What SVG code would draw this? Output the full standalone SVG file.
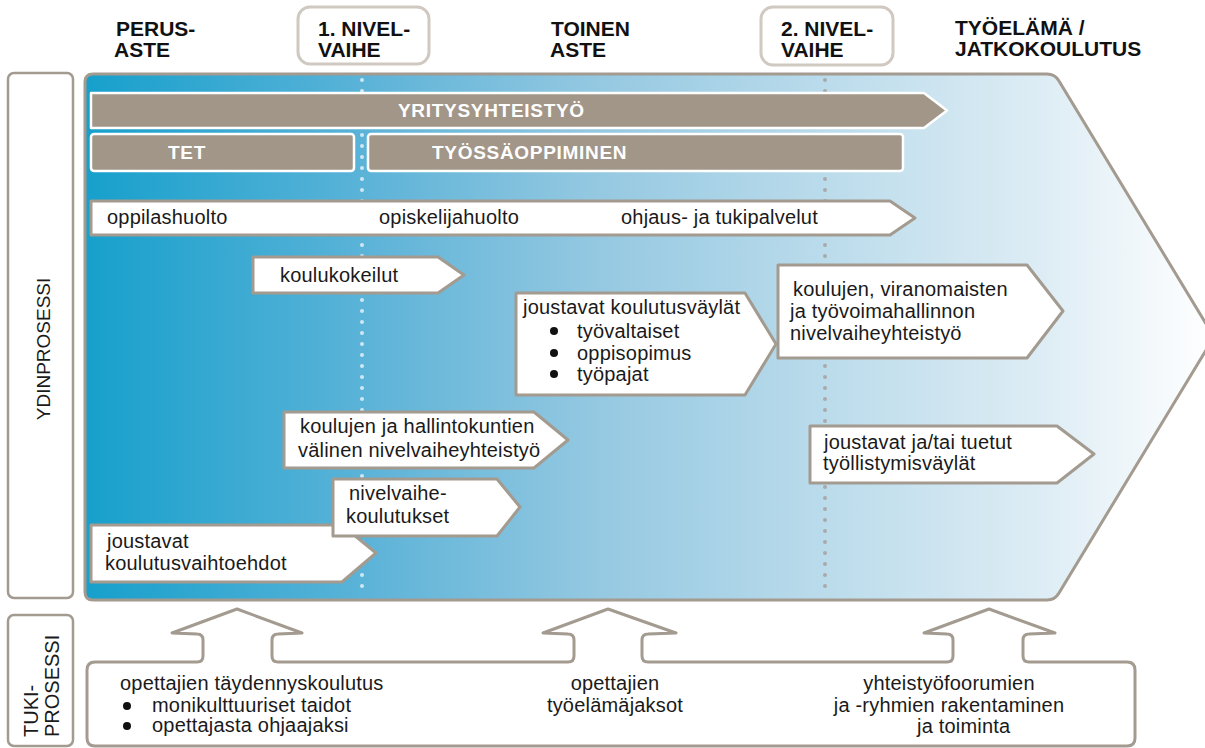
<svg xmlns="http://www.w3.org/2000/svg" width="1205" height="748" viewBox="0 0 1205 748">
<defs>
<linearGradient id="bg" gradientUnits="userSpaceOnUse" x1="85" y1="0" x2="1215" y2="0">
<stop offset="0" stop-color="#16a0cc"/>
<stop offset="0.25" stop-color="#5cb3d8"/>
<stop offset="0.45" stop-color="#94c8e1"/>
<stop offset="0.65" stop-color="#badbeb"/>
<stop offset="0.85" stop-color="#deedf5"/>
<stop offset="1" stop-color="#ffffff"/>
</linearGradient>
<style>
.t{font-family:"Liberation Sans",Arial,sans-serif;font-size:20px;letter-spacing:0.2px;fill:#1a1a1a}
.h{font-family:"Liberation Sans",Arial,sans-serif;font-size:21px;font-weight:bold;fill:#111}
.b{font-family:"Liberation Sans",Arial,sans-serif;font-size:19px;font-weight:bold;letter-spacing:0.7px;fill:#fff}
.r{font-family:"Liberation Sans",Arial,sans-serif;font-size:19px;fill:#1a1a1a}
.box{fill:#fff;stroke:#a39a90;stroke-width:3;stroke-linejoin:round}
.lbl{fill:#fff;stroke:#a39a90;stroke-width:2.5}
.niv{fill:#fff;stroke:#d0c9c1;stroke-width:3}
.bar{fill:#a29689;stroke:#fff;stroke-width:2.5;stroke-linejoin:round}
.dot1{stroke:#cfe7f3;stroke-width:4;stroke-linecap:round;stroke-dasharray:0 11;fill:none}
.dot2{stroke:#a9a9a9;stroke-width:4;stroke-linecap:round;stroke-dasharray:0 11;fill:none}
</style>
</defs>

<g id="headers">
<text class="h" x="116" y="36">PERUS-</text>
<text class="h" x="114" y="57">ASTE</text>
<g id="nivel1">
<rect class="niv" x="298" y="7" width="131" height="57" rx="12"/>
<text class="h" x="318" y="36">1. NIVEL-</text>
<text class="h" x="318" y="57">VAIHE</text>
</g>
<text class="h" x="551" y="36">TOINEN</text>
<text class="h" x="550" y="57">ASTE</text>
<g id="nivel2">
<rect class="niv" x="761" y="7" width="132" height="58" rx="12"/>
<text class="h" x="781" y="36">2. NIVEL-</text>
<text class="h" x="781" y="57">VAIHE</text>
</g>
<text class="h" x="955" y="35">TYÖELÄMÄ /</text>
<text class="h" x="955" y="56">JATKOKOULUTUS</text>
</g>

<g id="ydinprosessi-label">
<rect class="lbl" x="8" y="73" width="65" height="525" rx="6"/>
<text class="r" text-anchor="middle" transform="translate(50,349) rotate(-90)">YDINPROSESSI</text>
</g>

<g id="tukiprosessi-label">
<rect class="lbl" x="8" y="615" width="65" height="131" rx="6"/>
<text class="r" style="font-size:20px" transform="translate(38,737) rotate(-90)">TUKI-</text>
<text class="r" style="font-size:20px" transform="translate(59,737) rotate(-90)">PROSESSI</text>
</g>

<g id="ydinprosessi-panel">
<path d="M93,74 H1047 Q1055,74 1059,81 L1214,337 L1059,593 Q1055,600 1047,600 H93 Q85,600 85,592 V82 Q85,74 93,74 Z" fill="url(#bg)" stroke="#a39a90" stroke-width="3"/>
</g>

<g id="phase-lines">
<line class="dot1" x1="362" y1="80" x2="362" y2="597"/>
<line class="dot2" x1="825" y1="80" x2="825" y2="597"/>
</g>

<g id="yritysyhteistyo">
<path class="bar" d="M91,93 H924 L947,110.5 L924,128 H91 Z"/>
<text class="b" x="398" y="117">YRITYSYHTEISTYÖ</text>
</g>

<g id="tet">
<rect class="bar" x="91" y="134" width="263" height="37" rx="3"/>
<text class="b" x="168" y="159">TET</text>
</g>

<g id="tyossaoppiminen">
<rect class="bar" x="368" y="134" width="535" height="37" rx="3"/>
<text class="b" x="432" y="159">TYÖSSÄOPPIMINEN</text>
</g>

<g id="huolto">
<path class="box" d="M91,201 H890 L915,218 L890,235 H91 Z"/>
<text class="t" x="107" y="224">oppilashuolto</text>
<text class="t" x="379" y="224">opiskelijahuolto</text>
<text class="t" x="621" y="224">ohjaus- ja tukipalvelut</text>
</g>

<g id="koulukokeilut">
<path class="box" d="M253,257 H438 L464,275 L438,293 H253 Z"/>
<text class="t" x="280" y="282">koulukokeilut</text>
</g>

<g id="joustavat-koulutusvaylat">
<path class="box" d="M516,293 H745 L776,344 L745,395 H516 Z"/>
<text class="t" x="523" y="314">joustavat koulutusväylät</text>
<circle cx="554" cy="331" r="4" fill="#111"/>
<circle cx="554" cy="353" r="4" fill="#111"/>
<circle cx="554" cy="374" r="4" fill="#111"/>
<text class="t" x="577" y="338">työvaltaiset</text>
<text class="t" x="577" y="360">oppisopimus</text>
<text class="t" x="577" y="381">työpajat</text>
</g>

<g id="nivelvaiheyhteistyo-viranomaiset">
<path class="box" d="M778,265 H1027 L1063,311 L1027,358 H778 Z"/>
<text class="t" x="793" y="296">koulujen, viranomaisten</text>
<text class="t" x="790" y="318">ja työvoimahallinnon</text>
<text class="t" x="790" y="340">nivelvaiheyhteistyö</text>
</g>

<g id="hallintokunnat">
<path class="box" d="M284,412 H534 L568,440 L534,468 H284 Z"/>
<text class="t" x="300" y="433">koulujen ja hallintokuntien</text>
<text class="t" x="298" y="457">välinen nivelvaiheyhteistyö</text>
</g>

<g id="joustavat-vaihtoehdot">
<path class="box" d="M91,525 H342 L376,553 L342,582 H91 Z"/>
<text class="t" x="107" y="548">joustavat</text>
<text class="t" x="105" y="570">koulutusvaihtoehdot</text>
</g>

<g id="nivelvaihekoulutukset">
<path class="box" d="M333,479 H497 L520,507 L497,536 H333 Z"/>
<text class="t" x="349" y="500">nivelvaihe-</text>
<text class="t" x="346" y="523">koulutukset</text>
</g>

<g id="tyollistymisvaylat">
<path class="box" d="M810,426 H1057 L1094,454 L1057,483 H810 Z"/>
<text class="t" x="824" y="449">joustavat ja/tai tuetut</text>
<text class="t" x="823" y="470">työllistymisväylät</text>
</g>

<g id="tukiprosessi">
<path class="box" d="M87,738 V670 Q87,662 95,662 H197 Q203,662 203,656 V640 Q203,634 197,634 L172,633 L237,609 L302,633 L278,634 Q272,634 272,640 V656 Q272,662 278,662 H568 Q574,662 574,656 V640 Q574,634 568,634 L543,633 L608,609 L676,633 L648,634 Q642,634 642,640 V656 Q642,662 648,662 H947 Q953,662 953,656 V640 Q953,634 947,634 L924,633 L989,609 L1055,633 L1029,634 Q1023,634 1023,640 V656 Q1023,662 1029,662 H1127 Q1135,662 1135,670 V738 Q1135,746 1127,746 H95 Q87,746 87,738 Z"/>
<text class="t" x="120" y="690">opettajien täydennyskoulutus</text>
<circle cx="127" cy="706" r="4" fill="#111"/>
<circle cx="127" cy="726" r="4" fill="#111"/>
<text class="t" x="152" y="712">monikulttuuriset taidot</text>
<text class="t" x="152" y="732">opettajasta ohjaajaksi</text>
<text class="t" x="615" y="690" text-anchor="middle">opettajien</text>
<text class="t" x="615" y="712" text-anchor="middle">työelämäjaksot</text>
<text class="t" x="949" y="690" text-anchor="middle">yhteistyöfoorumien</text>
<text class="t" x="949" y="712" text-anchor="middle">ja -ryhmien rakentaminen</text>
<text class="t" x="917" y="733">ja toiminta</text>
</g>
</svg>
